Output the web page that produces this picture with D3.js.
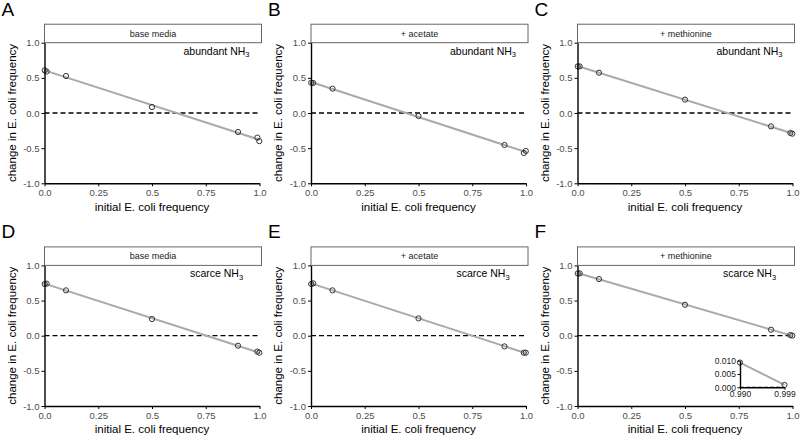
<!DOCTYPE html>
<html><head><meta charset="utf-8">
<script src="https://cdn.jsdelivr.net/npm/d3@7"></script>
<style>
html,body{margin:0;padding:0;background:#fff;}
svg{display:block;font-family:"Liberation Sans",Arial,sans-serif;}
</style></head>
<body><svg id="c" width="800" height="435"></svg>
<script>
// ---- data ----
const xValues = [0.001, 0.01, 0.1, 0.5, 0.9, 0.99, 0.999];
const yA = [0.607, 0.59, 0.526, 0.085, -0.27, -0.35, -0.40];
const yB = [0.43, 0.427, 0.346, -0.043, -0.455, -0.569, -0.54];
const yC = [0.663, 0.663, 0.573, 0.19, -0.19, -0.284, -0.294];
const yD = [0.735, 0.74, 0.645, 0.237, -0.142, -0.227, -0.242];
const yE = [0.735, 0.744, 0.645, 0.246, -0.152, -0.242, -0.242];
const yF = [0.886, 0.886, 0.806, 0.44, 0.085, 0.009, 0.001];
const panelLetters = ["A", "B", "C", "D", "E", "F"];
const stripLabels = ["base media", "+ acetate", "+ methionine"];
const nh3Labels = ["abundant NH", "scarce NH"];
const xTicks = [0, 0.25, 0.5, 0.75, 1];
const xTickLabels = ["0.0", "0.25", "0.5", "0.75", "1.0"];
const yTicks = [-1, -0.5, 0, 0.5, 1];
const yTickLabels = ["-1.0", "-0.5", "0.0", "0.5", "1.0"];
const insetX = [0.99, 0.999];
const insetY = [0.0093, 0.0009];
const insetXTicks = [0.99, 0.999];
const insetXTickLabels = ["0.990", "0.999"];
const insetYTicks = [0, 0.005, 0.01];
const insetYTickLabels = ["0.000", "0.005", "0.010"];

const series = [yA, yB, yC, yD, yE, yF];

// ---- layout ----
const svg = d3.select("#c");
const colLeft = [44.5, 311, 577.5];
const panelW = 215;
const stripW = 217;
const rowTop = [42.7, 265.4];
const panelH = 140.6;
const stripH = 18.5;
const tickCol = "#4d4d4d";

function fitLine(xs, ys) {
  const mx = d3.mean(xs), my = d3.mean(ys);
  let sxy = 0, sxx = 0;
  xs.forEach((x, i) => { sxy += (x - mx) * (ys[i] - my); sxx += (x - mx) * (x - mx); });
  const b = sxy / sxx;
  return { a: my - b * mx, b };
}

series.forEach((ys, i) => {
  const col = i % 3, row = Math.floor(i / 3);
  const left = colLeft[col], top = rowTop[row];
  const g = svg.append("g").attr("transform", `translate(${left},${top})`);
  const x = d3.scaleLinear().domain([0, 1]).range([0, panelW]);
  const y = d3.scaleLinear().domain([-1, 1]).range([panelH, 0]);

  // strip
  g.append("rect").attr("x", 0).attr("y", -stripH).attr("width", stripW).attr("height", stripH)
    .attr("fill", "#fff").attr("stroke", "#666").attr("stroke-width", 1);
  g.append("text").attr("x", stripW / 2).attr("y", -stripH / 2).attr("dy", "0.35em")
    .attr("text-anchor", "middle").attr("font-size", 9).attr("fill", "#1a1a1a").text(stripLabels[col]);

  // dashed zero line
  g.append("line").attr("x1", x(0)).attr("x2", x(1)).attr("y1", y(0)).attr("y2", y(0))
    .attr("stroke", "#000").attr("stroke-width", 1.3).attr("stroke-dasharray", "5,3");

  // fitted line
  const f = fitLine(xValues, ys);
  g.append("line").attr("x1", x(0)).attr("x2", x(1)).attr("y1", y(f.a)).attr("y2", y(f.a + f.b))
    .attr("stroke", "#aaaaaa").attr("stroke-width", 2);

  // points
  g.selectAll("circle.p").data(xValues.map((xv, k) => [xv, ys[k]])).enter().append("circle")
    .attr("cx", d => x(d[0])).attr("cy", d => y(d[1])).attr("r", 2.6)
    .attr("fill", "none").attr("stroke", "#333").attr("stroke-width", 1);

  // axes
  const xa = g.append("g").attr("transform", `translate(0,${panelH})`)
    .call(d3.axisBottom(x).tickValues(xTicks).tickFormat((d, k) => xTickLabels[k]).tickSize(3).tickSizeOuter(0));
  const ya = g.append("g")
    .call(d3.axisLeft(y).tickValues(yTicks).tickFormat((d, k) => yTickLabels[k]).tickSize(3).tickSizeOuter(0));
  [xa, ya].forEach(a => {
    a.select(".domain").attr("stroke", "#000").attr("stroke-width", 1.4);
    a.selectAll(".tick line").attr("stroke", "#000").attr("stroke-width", 1);
    a.selectAll(".tick text").attr("fill", tickCol).attr("font-size", 9.5)
      .attr("font-family", "Liberation Sans, Arial, sans-serif");
  });
  ya.selectAll(".tick text").attr("x", -5);
  xa.selectAll(".tick text").attr("y", 6);

  // axis titles
  g.append("text").attr("x", panelW / 2).attr("y", panelH + 27.5).attr("text-anchor", "middle")
    .attr("font-size", 11.5).attr("fill", "#000").text("initial E. coli frequency");
  g.append("text").attr("transform", `translate(-29,${panelH / 2}) rotate(-90)`)
    .attr("text-anchor", "middle").attr("font-size", 11.5).attr("fill", "#000")
    .text("change in E. coli frequency");

  // condition label
  const t = g.append("text").attr("x", x(0.8)).attr("y", y(0.83)).attr("text-anchor", "middle")
    .attr("font-size", 10.5).attr("fill", "#000");
  t.append("tspan").text(nh3Labels[row]);
  t.append("tspan").attr("font-size", 7.5).attr("dy", 2.5).text("3");

  // panel letter
  svg.append("text").attr("x", left - 43).attr("y", top - stripH - 8.5)
    .attr("font-size", 19).attr("fill", "#000").text(panelLetters[i]);

  // inset for F
  if (i === 5) {
    const ig = g.append("g").attr("transform", `translate(${740 - left},${360.7 - top})`);
    const iw = 44.5, ih = 26.6;
    const ix = d3.scaleLinear().domain([0.99, 0.999]).range([0, iw]);
    const iy = d3.scaleLinear().domain([0, 0.01]).range([ih, 0]);
    ig.append("line").attr("x1", 0).attr("x2", iw).attr("y1", iy(0)).attr("y2", iy(0))
      .attr("stroke", "#000").attr("stroke-width", 1.3).attr("stroke-dasharray", "4,2");
    ig.append("line").attr("x1", ix(insetX[0])).attr("x2", ix(insetX[1]))
      .attr("y1", iy(insetY[0])).attr("y2", iy(insetY[1]))
      .attr("stroke", "#aaaaaa").attr("stroke-width", 2);
    ig.selectAll("circle").data(insetX.map((xv, k) => [xv, insetY[k]])).enter().append("circle")
      .attr("cx", d => ix(d[0])).attr("cy", d => iy(d[1])).attr("r", 2.6)
      .attr("fill", "none").attr("stroke", "#333").attr("stroke-width", 1);
    const ixa = ig.append("g").attr("transform", `translate(0,${ih})`)
      .call(d3.axisBottom(ix).tickValues(insetXTicks).tickFormat((d, k) => insetXTickLabels[k]).tickSize(2.5).tickSizeOuter(0));
    const iya = ig.append("g")
      .call(d3.axisLeft(iy).tickValues(insetYTicks).tickFormat((d, k) => insetYTickLabels[k]).tickSize(2.5).tickSizeOuter(0));
    [ixa, iya].forEach(a => {
      a.select(".domain").attr("stroke", "#000").attr("stroke-width", 1.4);
      a.selectAll(".tick line").attr("stroke", "#000");
      a.selectAll(".tick text").attr("fill", "#222").attr("font-size", 8.5)
        .attr("font-family", "Liberation Sans, Arial, sans-serif");
    });
    iya.selectAll(".tick text").attr("x", -4);
    ixa.selectAll(".tick text").attr("y", 4);
  }
});
</script></body></html>
